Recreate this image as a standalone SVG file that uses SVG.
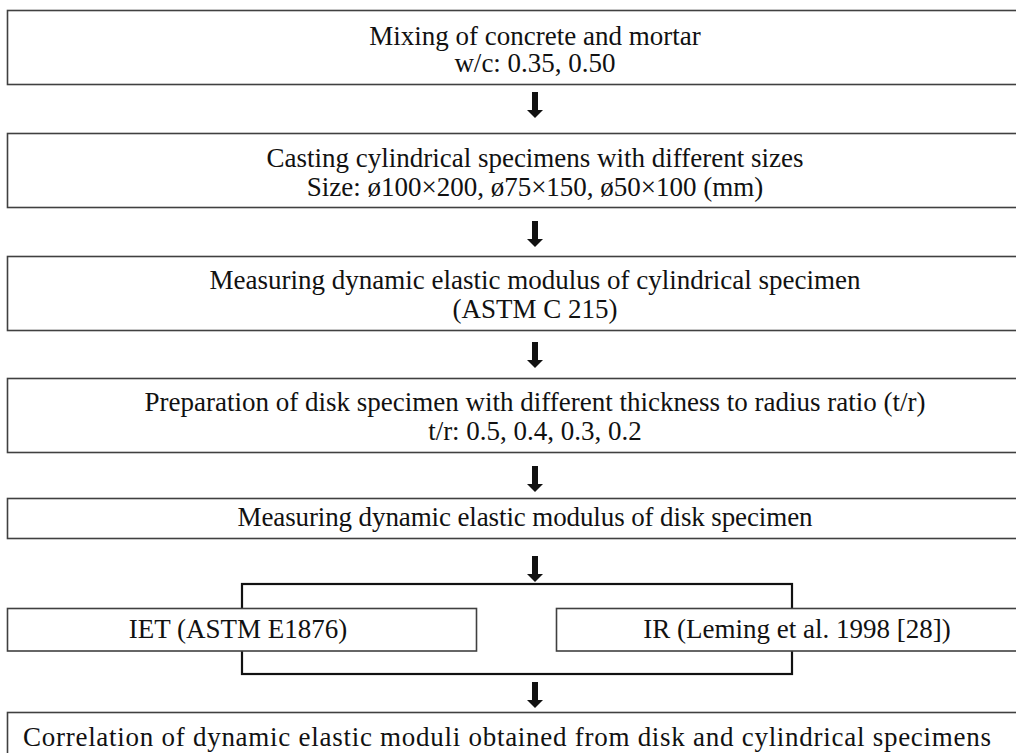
<svg xmlns="http://www.w3.org/2000/svg" width="1016" height="753" viewBox="0 0 1016 753">
<defs>
<style>
.box{fill:#fff;stroke:#404040;stroke-width:1.6}
.t{font-family:"Liberation Serif","Times New Roman",serif;font-size:27px;fill:#111;text-anchor:middle}
.br{fill:none;stroke:#111;stroke-width:2.2}
.ar{fill:#111}
</style>
<path id="arr" class="ar" d="M-3,0 H3 V18 H8 L0,26 L-8,18 H-3 Z"/>
</defs>
<rect width="1016" height="753" fill="#fff"/>
<g id="connectors">
<rect class="br" x="242" y="584" width="550" height="90"/>
<use href="#arr" x="535" y="92"/>
<use href="#arr" x="535" y="221"/>
<use href="#arr" x="535" y="342"/>
<use href="#arr" x="535" y="466"/>
<use href="#arr" x="535" y="556"/>
<use href="#arr" x="535" y="682"/>
</g>
<g id="n1"><rect class="box" x="7.5" y="10.5" width="1060" height="74"/>
<text class="t"><tspan x="535" y="45">Mixing of concrete and mortar</tspan><tspan x="535" y="72">w/c: 0.35, 0.50</tspan></text></g>
<g id="n2"><rect class="box" x="7.5" y="133.5" width="1060" height="74"/>
<text class="t"><tspan x="535" y="167">Casting cylindrical specimens with different sizes</tspan><tspan x="535" y="195.5">Size: ø100×200, ø75×150, ø50×100 (mm)</tspan></text></g>
<g id="n3"><rect class="box" x="7.5" y="256.5" width="1060" height="74"/>
<text class="t"><tspan x="535" y="289">Measuring dynamic elastic modulus of cylindrical specimen</tspan><tspan x="535" y="317.5">(ASTM C 215)</tspan></text></g>
<g id="n4"><rect class="box" x="7.5" y="378.5" width="1060" height="74"/>
<text class="t"><tspan x="535" y="411">Preparation of disk specimen with different thickness to radius ratio (t/r)</tspan><tspan x="535" y="439.5">t/r: 0.5, 0.4, 0.3, 0.2</tspan></text></g>
<g id="n5"><rect class="box" x="7.5" y="498.5" width="1060" height="40"/>
<text class="t" x="525" y="526" textLength="575" lengthAdjust="spacing">Measuring dynamic elastic modulus of disk specimen</text></g>
<g id="n6"><rect class="box" x="7.5" y="608.5" width="469" height="42.5"/>
<text class="t" x="238" y="638">IET (ASTM E1876)</text></g>
<g id="n7"><rect class="box" x="556.5" y="608.5" width="490" height="42.5"/>
<text class="t" x="797" y="638">IR (Leming et al. 1998 [28])</text></g>
<g id="n8"><rect class="box" x="7.5" y="712.5" width="1060" height="60"/>
<text class="t" x="507" y="746" textLength="968" lengthAdjust="spacing">Correlation of dynamic elastic moduli obtained from disk and cylindrical specimens</text></g>
</svg>
